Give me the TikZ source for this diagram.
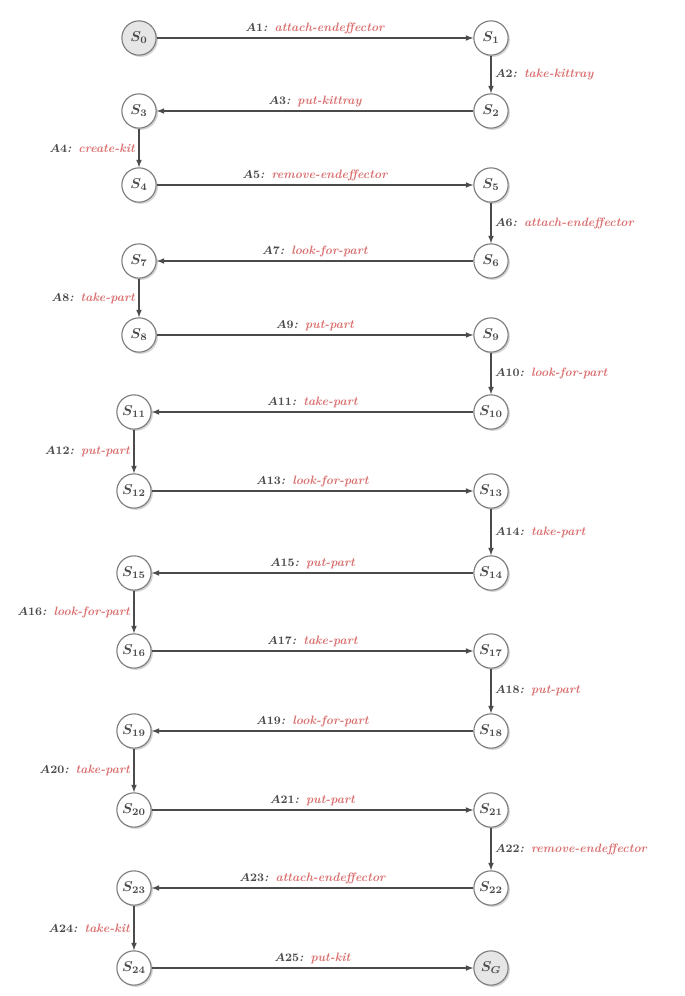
\documentclass[tikz,border=0pt]{standalone}
\usetikzlibrary{shadows,arrows}
\definecolor{stgray}{RGB}{75,75,75}
\definecolor{stline}{RGB}{125,125,125}
\definecolor{stfill}{RGB}{230,230,230}
\definecolor{actred}{RGB}{218,110,110}
\tikzset{
  state/.style={circle,draw=stline,line width=0.8pt,fill=white,minimum size=24pt,
    inner sep=0pt,text=stgray,font=\boldmath,
    drop shadow={opacity=0.35,shadow xshift=1.2pt,shadow yshift=-1.2pt}},
  endstate/.style={state,fill=stfill},
  trans/.style={draw=stgray,line width=0.8pt,-latex},
  act/.style={font=\fontsize{8.5}{10}\selectfont\bfseries\itshape\boldmath,text=stgray,inner sep=2.5pt}
}
\newcommand{\actlab}[2]{$#1$:\ \,\textcolor{actred}{#2}}

\begin{document}
\begin{tikzpicture}[x=0.7pt,y=-0.7pt]
  \useasboundingbox (0,0) rectangle (684,996);
  % states
  \node[endstate] (s0) at (139,38) {$S_0$};
  \node[state] (s1) at (491,38) {$S_1$};
  \node[state] (s2) at (491,111) {$S_2$};
  \node[state] (s3) at (139,111) {$S_3$};
  \node[state] (s4) at (139,185) {$S_4$};
  \node[state] (s5) at (491,185) {$S_5$};
  \node[state] (s6) at (491,261) {$S_6$};
  \node[state] (s7) at (139,261) {$S_7$};
  \node[state] (s8) at (139,335) {$S_8$};
  \node[state] (s9) at (491,335) {$S_9$};
  \node[state] (s10) at (491,412) {$S_{10}$};
  \node[state] (s11) at (134,412) {$S_{11}$};
  \node[state] (s12) at (134,491) {$S_{12}$};
  \node[state] (s13) at (491,491) {$S_{13}$};
  \node[state] (s14) at (491,573) {$S_{14}$};
  \node[state] (s15) at (134,573) {$S_{15}$};
  \node[state] (s16) at (134,651) {$S_{16}$};
  \node[state] (s17) at (491,651) {$S_{17}$};
  \node[state] (s18) at (491,731) {$S_{18}$};
  \node[state] (s19) at (134,731) {$S_{19}$};
  \node[state] (s20) at (134,810) {$S_{20}$};
  \node[state] (s21) at (491,810) {$S_{21}$};
  \node[state] (s22) at (491,888) {$S_{22}$};
  \node[state] (s23) at (134,888) {$S_{23}$};
  \node[state] (s24) at (134,968) {$S_{24}$};
  \node[endstate] (sg) at (491,968) {$S_G$};
  % actions
  \draw[trans] (s0) -- node[act,above] {\actlab{A1}{attach-endeffector}} (s1);
  \draw[trans] (s1) -- node[act,right] {\actlab{A2}{take-kittray}} (s2);
  \draw[trans] (s2) -- node[act,above] {\actlab{A3}{put-kittray}} (s3);
  \draw[trans] (s3) -- node[act,left] {\actlab{A4}{create-kit}} (s4);
  \draw[trans] (s4) -- node[act,above] {\actlab{A5}{remove-endeffector}} (s5);
  \draw[trans] (s5) -- node[act,right] {\actlab{A6}{attach-endeffector}} (s6);
  \draw[trans] (s6) -- node[act,above] {\actlab{A7}{look-for-part}} (s7);
  \draw[trans] (s7) -- node[act,left] {\actlab{A8}{take-part}} (s8);
  \draw[trans] (s8) -- node[act,above] {\actlab{A9}{put-part}} (s9);
  \draw[trans] (s9) -- node[act,right] {\actlab{A10}{look-for-part}} (s10);
  \draw[trans] (s10) -- node[act,above] {\actlab{A11}{take-part}} (s11);
  \draw[trans] (s11) -- node[act,left] {\actlab{A12}{put-part}} (s12);
  \draw[trans] (s12) -- node[act,above] {\actlab{A13}{look-for-part}} (s13);
  \draw[trans] (s13) -- node[act,right] {\actlab{A14}{take-part}} (s14);
  \draw[trans] (s14) -- node[act,above] {\actlab{A15}{put-part}} (s15);
  \draw[trans] (s15) -- node[act,left] {\actlab{A16}{look-for-part}} (s16);
  \draw[trans] (s16) -- node[act,above] {\actlab{A17}{take-part}} (s17);
  \draw[trans] (s17) -- node[act,right] {\actlab{A18}{put-part}} (s18);
  \draw[trans] (s18) -- node[act,above] {\actlab{A19}{look-for-part}} (s19);
  \draw[trans] (s19) -- node[act,left] {\actlab{A20}{take-part}} (s20);
  \draw[trans] (s20) -- node[act,above] {\actlab{A21}{put-part}} (s21);
  \draw[trans] (s21) -- node[act,right] {\actlab{A22}{remove-endeffector}} (s22);
  \draw[trans] (s22) -- node[act,above] {\actlab{A23}{attach-endeffector}} (s23);
  \draw[trans] (s23) -- node[act,left] {\actlab{A24}{take-kit}} (s24);
  \draw[trans] (s24) -- node[act,above] {\actlab{A25}{put-kit}} (sg);
\end{tikzpicture}
\end{document}
